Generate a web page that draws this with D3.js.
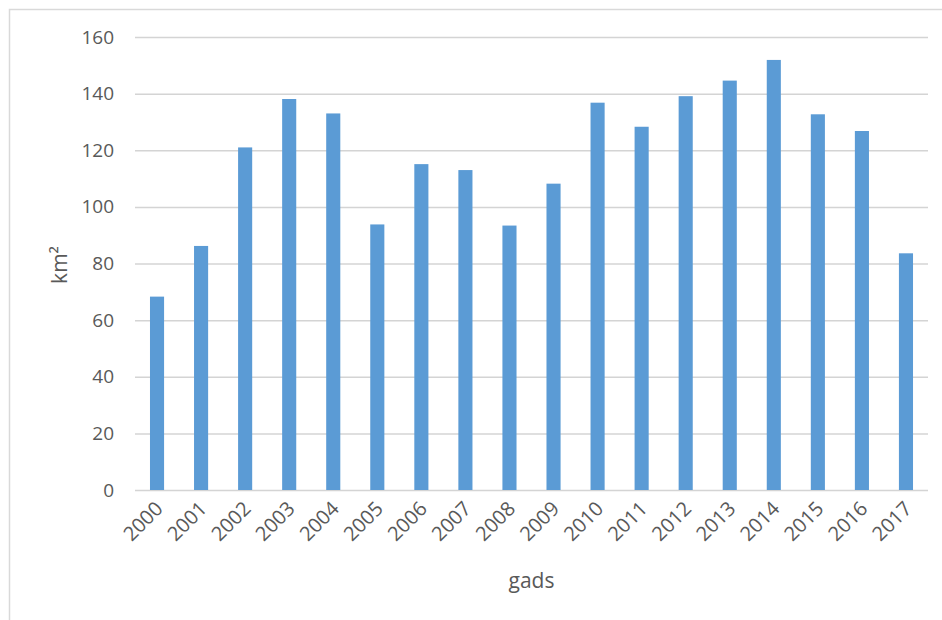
<!DOCTYPE html>
<html>
<head>
<meta charset="utf-8">
<script src="https://cdn.jsdelivr.net/npm/d3@7"></script>
<style>
  body { margin: 0; background: #fff; }
  text { font-family: "Open Sans", sans-serif; fill: #595959; }
</style>
</head>
<body>
<svg></svg>
<script>
const years = ["2000", "2001", "2002", "2003", "2004", "2005", "2006", "2007", "2008",
  "2009", "2010", "2011", "2012", "2013", "2014", "2015", "2016", "2017"];
const area = [68.3, 86.2, 121.0, 138.1, 133.0, 93.8, 115.1, 113.0, 93.4,
  108.2, 136.8, 128.3, 139.1, 144.6, 151.9, 132.7, 126.8, 83.6];
const yTicks = [0, 20, 40, 60, 80, 100, 120, 140, 160];

const width = 942;
const height = 620;
const plotLeft = 135, plotRight = 928, plotTop = 37, plotBottom = 490;

const svg = d3.select("svg")
  .attr("width", width)
  .attr("height", height);

// chart frame (only left and top edges fall inside the picture)
svg.append("rect")
  .attr("x", 9.5)
  .attr("y", 9.5)
  .attr("width", 1000)
  .attr("height", 1000)
  .attr("fill", "none")
  .attr("stroke", "#d9d9d9")
  .attr("stroke-width", 1.5);

const xScale = d3.scaleBand()
  .domain(years)
  .range([plotLeft, plotRight])
  .paddingInner(0.68)
  .paddingOuter(0.34);

const yScale = d3.scaleLinear()
  .domain([0, 160])
  .range([plotBottom, plotTop]);

// gridlines + y labels
svg.append("g")
  .attr("transform", `translate(${plotLeft}, 0)`)
  .call(d3.axisLeft(yScale).tickValues(yTicks).tickSize(-(plotRight - plotLeft)).tickPadding(21))
  .call(g => g.select(".domain").remove())
  .call(g => g.selectAll("line").attr("stroke", "#d4d4d4").attr("stroke-width", 1.5))
  .call(g => g.selectAll("text").style("font-size", "19px").attr("fill", "#595959"));

svg.selectAll(".bar")
  .data(area)
  .enter()
  .append("rect")
    .classed("bar", true)
    .attr("x", (d, i) => xScale(years[i]))
    .attr("y", d => yScale(d))
    .attr("width", xScale.bandwidth())
    .attr("height", d => plotBottom - yScale(d))
    .attr("fill", "#5b9bd5");

// x axis
svg.append("g")
  .attr("transform", `translate(0, ${plotBottom})`)
  .call(d3.axisBottom(xScale).tickSize(0).tickPadding(0))
  .call(g => g.select(".domain").remove())
  .selectAll("text")
    .style("font-size", "20px")
    .attr("fill", "#595959")
    .style("text-anchor", "end")
    .attr("dy", 0)
    .attr("transform", "translate(7, 20) rotate(-45)");

svg.append("text")
  .attr("x", (plotLeft + plotRight) / 2)
  .attr("y", 588)
  .style("text-anchor", "middle")
  .style("font-size", "21px")
  .text("gads");

svg.append("text")
  .attr("transform", "rotate(-90)")
  .attr("x", -265)
  .attr("y", 67)
  .style("text-anchor", "middle")
  .style("font-size", "21px")
  .text("km²");
</script>
</body>
</html>
